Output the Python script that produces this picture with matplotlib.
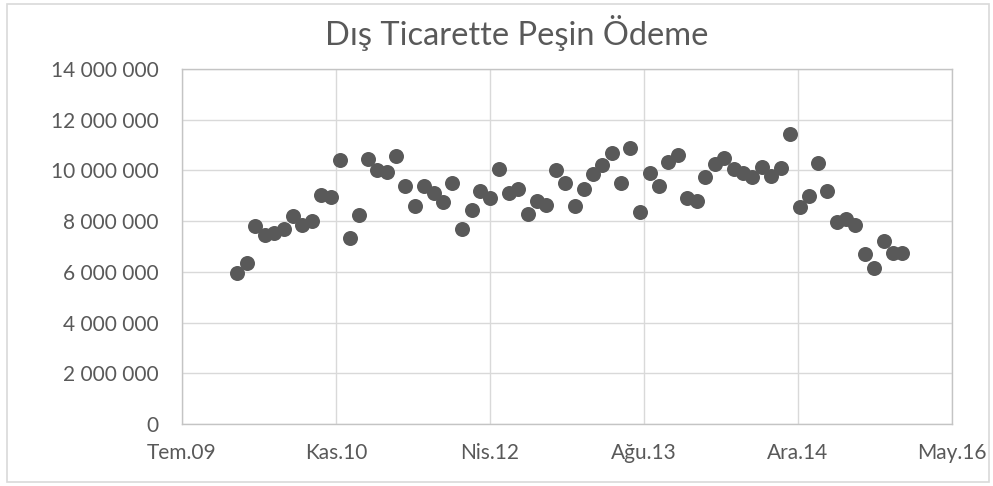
import datetime as dt
import matplotlib
matplotlib.use("Agg")
import matplotlib.pyplot as plt
from matplotlib.patches import Rectangle
from matplotlib.ticker import FuncFormatter

# ── Data: monthly values, Jan 2010 .. Dec 2015 ───────────────────────────────
start_year, start_month = 2010, 1
values = [
    5.95, 6.35, 7.80, 7.45, 7.55, 7.70, 8.20, 7.85, 8.00, 9.05, 8.95, 10.40,
    7.35, 8.25, 10.45, 10.00, 9.95, 10.55, 9.40, 8.60, 9.40, 9.10, 8.75, 9.50,
    7.70, 8.45, 9.20, 8.90, 10.05, 9.10, 9.25, 8.30, 8.80, 8.65, 10.00, 9.50,
    8.60, 9.25, 9.85, 10.20, 10.70, 9.50, 10.90, 8.35, 9.90, 9.40, 10.35, 10.60,
    8.90, 8.80, 9.75, 10.25, 10.50, 10.05, 9.90, 9.75, 10.15, 9.80, 10.10, 11.45,
    8.55, 9.00, 10.30, 9.20, 7.95, 8.10, 7.85, 6.70, 6.15, 7.20, 6.75, 6.75,
]  # millions
values = [v * 1e6 for v in values]

dates = []
for i in range(len(values)):
    m = start_month - 1 + i
    dates.append(dt.date(start_year + m // 12, m % 12 + 1, 1))

# x axis as in Excel: 500-day major unit starting 2009-07-06
x_start = dt.date(2009, 7, 6)
x_step_days = 500
x_labels = ["Tem.09", "Kas.10", "Nis.12", "Ağu.13", "Ara.14", "May.16"]
y_ticks = [0, 2e6, 4e6, 6e6, 8e6, 10e6, 12e6, 14e6]

title = "Dış Ticarette Peşin Ödeme"

# ── Plot ─────────────────────────────────────────────────────────────────────
txt = "#595959"
grid = "#d9d9d9"

fig = plt.figure(figsize=(9.93, 4.86), dpi=100)
ax = fig.add_axes([182 / 993, 1 - 424 / 486, (952 - 182) / 993, (424 - 69) / 486])

ax.plot(dates, values, linestyle="none", marker="o", markersize=10.8,
        color="#595959", markeredgewidth=0, zorder=3)

x_ticks = [x_start + dt.timedelta(days=x_step_days * k) for k in range(len(x_labels))]
ax.set_xlim(x_ticks[0], x_ticks[-1])
ax.set_xticks(x_ticks)
ax.set_xticklabels(x_labels)
ax.set_ylim(0, 14e6)
ax.set_yticks(y_ticks)
ax.yaxis.set_major_formatter(
    FuncFormatter(lambda v, _: f"{int(v):,}".replace(",", " ")))

ax.grid(True, color=grid, linewidth=1.0)
ax.set_axisbelow(True)
for s in ax.spines.values():
    s.set_color("#c4c4c4")
    s.set_linewidth(1.0)
ax.tick_params(length=0, labelsize=15, labelcolor=txt)
ax.tick_params(axis="y", pad=17)
ax.tick_params(axis="x", pad=14)
for lab in ax.get_xticklabels() + ax.get_yticklabels():
    lab.set_family("Lato")

fig.text(517 / 993, 1 - 33 / 486, title, ha="center", va="center",
         fontsize=23.5, color=txt, family="Lato")

# outer chart border
fig.patches.append(Rectangle((7 / 993, 4 / 486), 982 / 993, 478 / 486,
                             transform=fig.transFigure, fill=False,
                             edgecolor=grid, linewidth=1.2))

plt.savefig("out.png", dpi=100, facecolor="white")
